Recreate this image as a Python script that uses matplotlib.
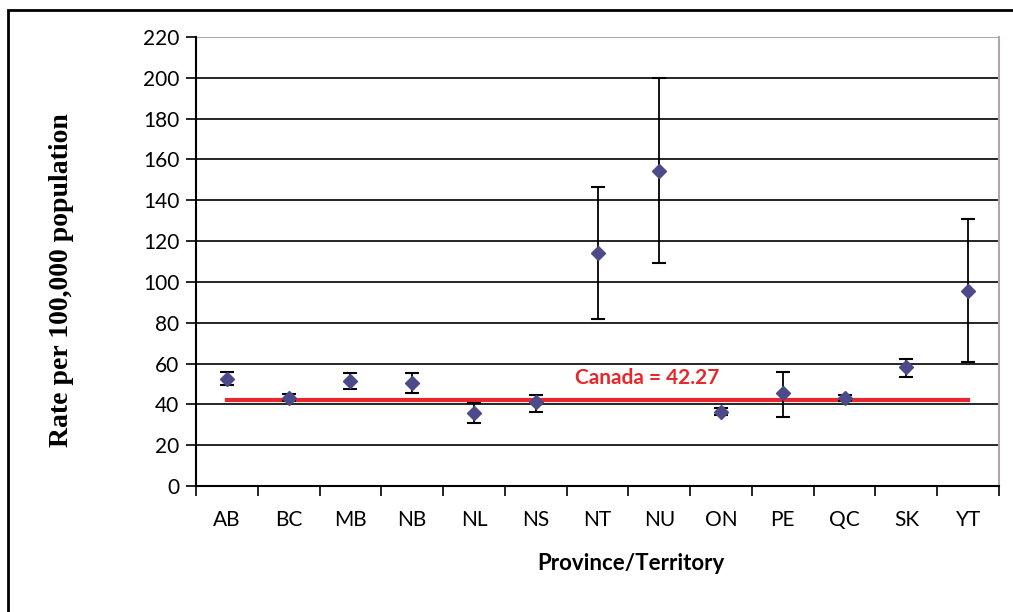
import numpy as np
import matplotlib
matplotlib.use("Agg")
import matplotlib.pyplot as plt
from matplotlib.patches import Rectangle

# data
provinces = ['AB', 'BC', 'MB', 'NB', 'NL', 'NS', 'NT', 'NU', 'ON', 'PE', 'QC', 'SK', 'YT']
rate = [52.3, 43.3, 51.5, 50.5, 35.8, 41.2, 114.2, 154.5, 36.4, 45.6, 43.1, 58.3, 95.7]
ci_low = [49.5, 41.5, 47.5, 45.6, 30.9, 36.3, 81.9, 109.3, 35.0, 33.8, 41.5, 53.4, 60.8]
ci_high = [55.8, 45.0, 55.4, 55.4, 40.7, 44.6, 146.6, 200.0, 38.0, 56.0, 44.5, 62.3, 130.9]
canada_rate = 42.27

plt.rcParams['font.family'] = ['Lato', 'DejaVu Sans']

fig = plt.figure(figsize=(10.13, 6.12), dpi=100)
ax = fig.add_axes([196 / 1013, 1 - 486 / 612, (999 - 196) / 1013, (486 - 37) / 612])

x = np.arange(len(provinces))
rate = np.array(rate)
yerr = np.vstack([rate - np.array(ci_low), np.array(ci_high) - rate])

# gridlines
for v in range(20, 220, 20):
    ax.axhline(v, color='black', lw=1.2, zorder=1)
ax.axhline(220, color='#b0a8a8', lw=1.5, zorder=1)

# Canada line
ax.plot([x[0], x[-1]], [canada_rate, canada_rate], color='#e8262b', lw=3, zorder=2)
ax.text(6.8, 53, 'Canada = 42.27', color='#e8262b', fontsize=15,
        fontweight='bold', ha='center', va='center', zorder=3)

ax.errorbar(x, rate, yerr=yerr, fmt='D', color='#4d4a8a', markersize=7.5,
            ecolor='black', elinewidth=1.3, capsize=5, capthick=1.5, zorder=4)

ax.set_xlim(-0.5, len(provinces) - 0.5)
ax.set_ylim(0, 220)
ax.set_yticks(range(0, 221, 20))
ax.set_xticks(x)
ax.set_xticklabels(provinces)
ax.set_xticks(np.arange(-0.5, len(provinces), 1), minor=True)
ax.tick_params(axis='x', which='major', length=0, pad=17, labelsize=15)
ax.tick_params(axis='x', which='minor', length=7, width=1.2, direction='out')
ax.tick_params(axis='y', length=7, width=1.2, direction='out', labelsize=15, pad=5)

ax.spines['top'].set_visible(False)
ax.spines['right'].set_color('#b0a8a8')
ax.spines['right'].set_linewidth(1.5)
ax.spines['left'].set_linewidth(1.5)
ax.spines['bottom'].set_linewidth(1.5)

ax.set_xlabel('Province/Territory', fontsize=16, fontweight='bold')
ax.xaxis.set_label_coords(0.542, -0.149)
ax.set_ylabel('Rate per 100,000 population', fontsize=20, fontweight='bold',
              family='Liberation Serif')
ax.yaxis.set_label_coords(-0.152, 0.459)

# outer frame
fig.patches.append(Rectangle((8 / 1013, -0.1), 1.2, 1 - 10 / 612 + 0.1,
                             transform=fig.transFigure, fill=False,
                             edgecolor='black', lw=2))

fig.savefig('out.png', dpi=100)
